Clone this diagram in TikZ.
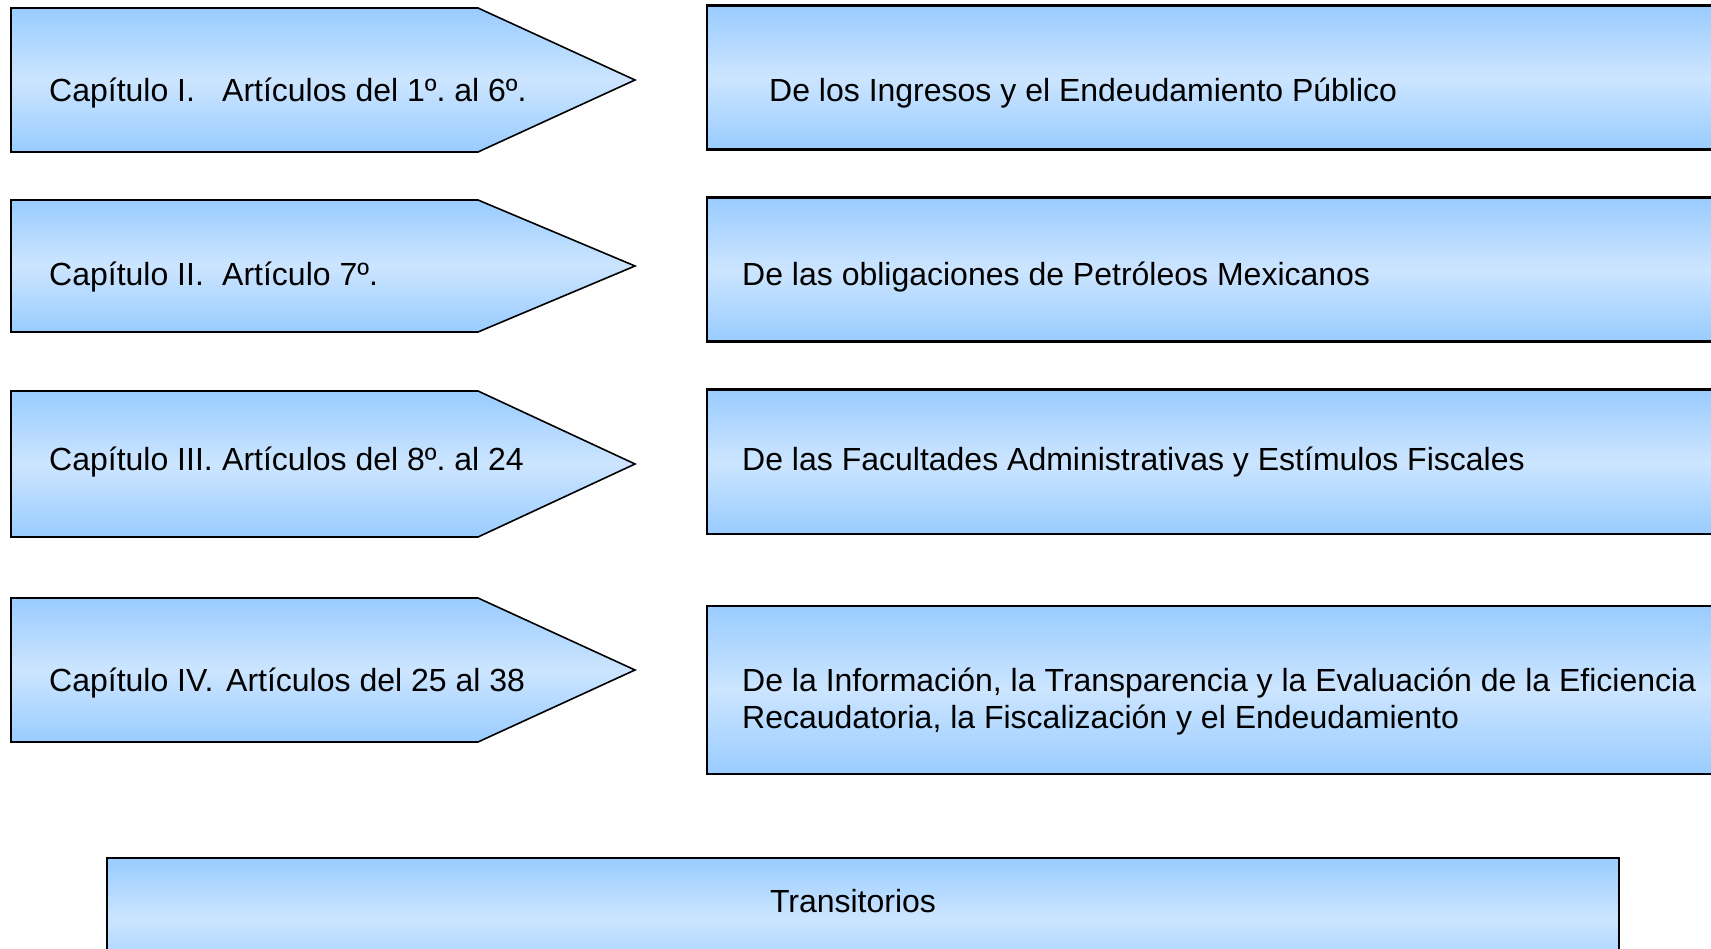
\documentclass[tikz,border=0pt]{standalone}
\usepackage{fontspec}
\setmainfont{Liberation Sans}
\begin{document}
\begin{tikzpicture}[x=1pt,y=-1pt]
	\definecolor{azul}{RGB}{153,204,255}
	\definecolor{celeste}{RGB}{204,229,255}
	\tikzset{
		flecha/.style={draw=black,line width=1.6pt,line join=miter,top color=azul,bottom color=azul,middle color=celeste},
		caja/.style={draw=black,line width=2.2pt,top color=azul,bottom color=azul,middle color=celeste},
		texto/.style={anchor=base west,inner sep=0pt,align=left,font=\fontsize{32}{37}\selectfont\frenchspacing}
	}
	\useasboundingbox (0,0) rectangle (1711,949);
	\clip (0,0) rectangle (1711,949);
	
	%Flechas de los capitulos
	\foreach \a/\b in {
		8/152,
		200/332,
		391/537,
		598/742
	}{
		\path[flecha] (11,\a) -- (478,\a) -- (635,{(\a+\b)/2}) -- (478,\b) -- (11,\b) -- cycle;
	}
	
	%Cajas de la derecha
	\foreach \a/\b in {
		5.5/149.5,
		197.5/341.5,
		389.6/533.6,
		605.6/773.7
	}{
		\path[caja] (707,\a) rectangle (1740,\b);
	}
	\path[caja] (107,858) rectangle (1619,980);
	
	%Textos
	\node[texto] (cap1) at (49,101.5) {\makebox[173pt][l]{Capítulo I.}Artículos del 1º. al 6º.};
	\node[texto] (cap2) at (49,286) {\makebox[173pt][l]{Capítulo II.}Artículo 7º.};
	\node[texto] (cap3) at (49,470) {\makebox[173pt][l]{Capítulo III.}Artículos del 8º. al 24};
	\node[texto] (cap4) at (49,691) {\makebox[177pt][l]{Capítulo IV.}Artículos del 25 al 38};
	
	\node[texto] (tema1) at (769,101.5) {De los Ingresos y el Endeudamiento Público};
	\node[texto] (tema2) at (742,286) {De las obligaciones de Petróleos Mexicanos};
	\node[texto] (tema3) at (742,470) {De las Facultades Administrativas y Estímulos Fiscales};
	\node[texto] (tema4) at (742,728) {De la Información, la Transparencia y la Evaluación de la Eficiencia\\Recaudatoria, la Fiscalización y el Endeudamiento};
	
	\node[texto,anchor=base] (trans) at (853,912) {Transitorios};
\end{tikzpicture}
\end{document}
